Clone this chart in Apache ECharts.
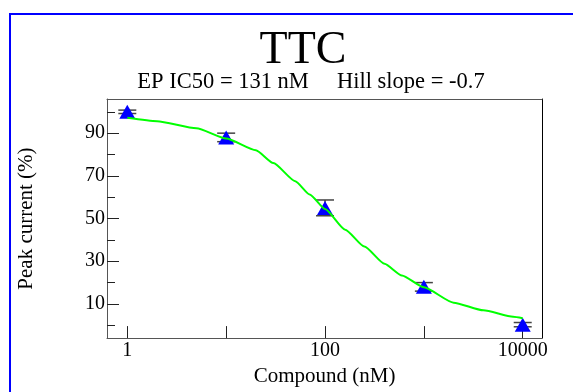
<!DOCTYPE html>
<html>
<head>
<meta charset="utf-8">
<script src="https://cdn.jsdelivr.net/npm/echarts@6/dist/echarts.min.js"></script>
<style>
  html, body { margin: 0; padding: 0; background: #fff; }
  #chart { width: 573px; height: 392px; }
</style>
</head>
<body>
<div id="chart"></div>
<script>
// measured points, compound concentration in nM
const concentrations = [1, 10, 100, 1000, 10000];
const peakCurrent = [100, 88, 55, 18, 0.3];
const peakError = [0.8, 2, 3.7, 2, 1];

// fitted Hill curve
const fitConc = [1, 2, 5, 10, 20, 30, 50, 70, 100, 160, 250, 400, 600, 1000, 2000, 4000, 8000, 10000];
const fitValues = [97.2, 95.6, 92.3, 87.5, 82, 76, 67.5, 61.3, 54.5, 44.8, 36.9, 28.8, 23.3, 17.8, 10.6, 7, 4, 3.3];

const xTickValues = [1, 10, 100, 1000, 10000];
const xLabelValues = [1, 100, 10000];
const yMajorTicks = [10, 30, 50, 70, 90];
const yMinorTicks = [0, 20, 40, 60, 80, 100];

const SERIF = '"Liberation Serif", "Times New Roman", serif';
const lg = (v) => Math.log10(v);
// x axis runs in log10 space, labels show the concentration
const X_MIN = -0.2054;
const X_MAX = 4.195;
const Y_MIN = -6;
const Y_MAX = 106;
const FRAME = '#555';

const chart = echarts.init(document.getElementById('chart'));
chart.setOption({
  animation: false,
  title: [
    {
      text: 'TTC', left: 298, top: 23, textAlign: 'center',
      textStyle: { fontFamily: SERIF, fontSize: 46, fontWeight: 'normal', color: '#000' },
    },
    {
      text: 'EP IC50 = 131 nM     Hill slope = -0.7', left: 306, top: 66, textAlign: 'center',
      textStyle: { fontFamily: SERIF, fontSize: 22.5, fontWeight: 'normal', color: '#000' },
    },
  ],
  graphic: [
    {
      type: 'rect', silent: true,
      shape: { x: 10, y: 14, width: 700, height: 500 },
      style: { fill: 'none', stroke: '#0000ff', lineWidth: 2 },
    },
  ],
  grid: { left: 107, right: 31, top: 99, bottom: 44 },
  xAxis: [
    {
      type: 'value', position: 'bottom', min: X_MIN, max: X_MAX,
      axisLine: { onZero: false, lineStyle: { color: FRAME } },
      axisTick: { inside: true, length: 12, customValues: xTickValues.map(lg), lineStyle: { color: '#222' } },
      axisLabel: {
        customValues: xLabelValues.map(lg), margin: 3,
        formatter: (v) => String(Math.round(Math.pow(10, v))),
        fontFamily: SERIF, fontSize: 20, color: '#000',
      },
      splitLine: { show: false },
      name: 'Compound (nM)', nameLocation: 'middle', nameGap: 26,
      nameTextStyle: { fontFamily: SERIF, fontSize: 21, color: '#000' },
    },
    {
      type: 'value', position: 'top', min: X_MIN, max: X_MAX,
      axisLine: { onZero: false, lineStyle: { color: FRAME } },
      axisTick: { show: false }, axisLabel: { show: false }, splitLine: { show: false },
    },
  ],
  yAxis: [
    {
      type: 'value', position: 'left', min: Y_MIN, max: Y_MAX,
      axisLine: { onZero: false, lineStyle: { color: FRAME } },
      axisTick: { inside: true, length: 12, customValues: yMajorTicks, lineStyle: { color: '#222' } },
      axisLabel: { customValues: yMajorTicks, margin: 2, fontFamily: SERIF, fontSize: 20, color: '#000' },
      splitLine: { show: false },
      name: 'Peak current (%)', nameLocation: 'middle', nameGap: 70,
      nameTextStyle: { fontFamily: SERIF, fontSize: 21, color: '#000' },
    },
    {
      type: 'value', position: 'left', min: Y_MIN, max: Y_MAX,
      axisLine: { show: false, onZero: false },
      axisTick: { inside: true, length: 8, customValues: yMinorTicks, lineStyle: { color: '#222' } },
      axisLabel: { show: false }, splitLine: { show: false },
    },
    {
      type: 'value', position: 'right', min: Y_MIN, max: Y_MAX,
      axisLine: { show: true, onZero: false, lineStyle: { color: '#000' } },
      axisTick: { show: false }, axisLabel: { show: false }, splitLine: { show: false },
    },
  ],
  series: [
    {
      type: 'custom',
      xAxisIndex: 0, yAxisIndex: 0,
      encode: { x: 0, y: [1, 2] },
      data: concentrations.map((c, i) => [lg(c), peakCurrent[i] - peakError[i], peakCurrent[i] + peakError[i]]),
      renderItem: (params, api) => {
        const x = api.value(0);
        const lo = api.coord([x, api.value(1)]);
        const hi = api.coord([x, api.value(2)]);
        const half = 9;
        const style = { stroke: '#444', lineWidth: 1.5 };
        return {
          type: 'group',
          children: [
            { type: 'line', shape: { x1: lo[0], y1: lo[1], x2: hi[0], y2: hi[1] }, style },
            { type: 'line', shape: { x1: lo[0] - half, y1: lo[1], x2: lo[0] + half, y2: lo[1] }, style },
            { type: 'line', shape: { x1: hi[0] - half, y1: hi[1], x2: hi[0] + half, y2: hi[1] }, style },
          ],
        };
      },
      z: 1,
    },
    {
      type: 'scatter',
      xAxisIndex: 0, yAxisIndex: 0,
      data: concentrations.map((c, i) => [lg(c), peakCurrent[i]]),
      symbol: 'triangle',
      symbolSize: [16, 14],
      itemStyle: { color: '#0000ff', opacity: 1 },
      z: 2,
    },
    {
      type: 'line',
      xAxisIndex: 0, yAxisIndex: 0,
      data: fitConc.map((c, i) => [lg(c), fitValues[i]]),
      smooth: 0.2,
      smoothMonotone: 'x',
      symbol: 'none',
      lineStyle: { color: '#00ff00', width: 2 },
      z: 3,
    },
  ],
});
</script>
</body>
</html>
